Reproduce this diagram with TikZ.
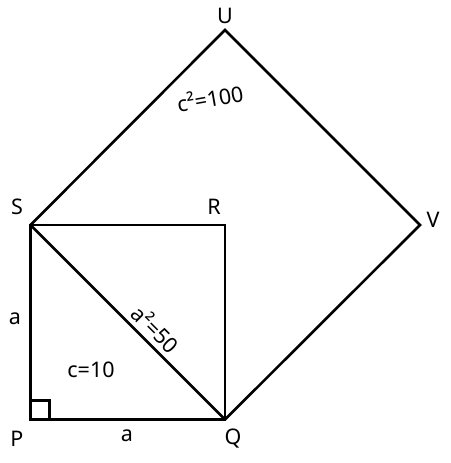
\documentclass[tikz,border=0pt]{standalone}
\usepackage{fontspec}
\setmainfont{Noto Sans}
\usetikzlibrary{calc}
\begin{document}
\begin{tikzpicture}[x=1pt,y=-1pt,
  edge/.style={draw=black,line width=2.6pt,line join=miter},
  lbl/.style={font=\fontsize{21.5}{24}\selectfont,inner sep=0pt}]
\useasboundingbox (0,0) rectangle (450,463);
\coordinate (P) at (30.5,419.5);
\coordinate (Q) at (225,419.5);
\coordinate (R) at (225,225);
\coordinate (S) at (30.5,225);
\coordinate (U) at (225,30);
\coordinate (V) at (420,225);
\draw[edge] (P) -- (Q) -- (R) -- (S) -- cycle;
\draw[edge] (S) -- (Q);
\draw[edge] (S) -- (U) -- (V) -- (Q);
\draw[edge,line width=2.2pt] ($(P)+(0,-19)$) -| ($(P)+(19,0)$);
\node[lbl] (lU) at (225,16) {U};
\node[lbl] (lV) at (433,220) {V};
\node[lbl] (lR) at (214,207) {R};
\node[lbl] (lS) at (17,207) {S};
\node[lbl] (lP) at (17,439) {P};
\node[lbl] (lQ) at (233,439) {Q};
\node[lbl] (la1) at (15,319) {a};
\node[lbl] (la2) at (127,436) {a};
\node[lbl] (lc) at (91,370) {c=10};
\node[lbl,rotate=-45] (la) at (156,329) {a²=50};
\node[lbl,rotate=10] (lc2) at (210,98) {c²=100};
\end{tikzpicture}
\end{document}
